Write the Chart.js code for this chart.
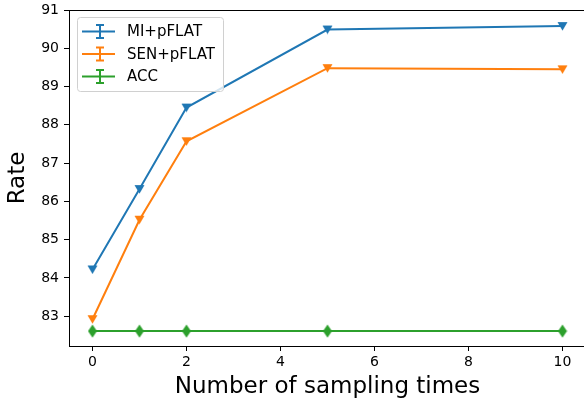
<!DOCTYPE html>
<html lang="en">
<head>
<meta charset="UTF-8" />
<title>Rate vs sampling times</title>
<script src="https://cdn.jsdelivr.net/npm/chart.js"></script>
<style>
  html, body { margin: 0; padding: 0; overflow: hidden; background: #fff; }
  canvas { display: block; }
</style>
</head>
<body>
<canvas id="grafico" width="588" height="401"></canvas>
<script>
  // dados
  var samplingTimes = [0, 1, 2, 5, 10];
  var miValues = [84.22, 86.32, 88.45, 90.49, 90.58];
  var senValues = [82.92, 85.52, 87.57, 89.48, 89.45];
  var accValues = [82.61, 82.61, 82.61, 82.61, 82.61];
  var xTicks = [0, 2, 4, 6, 8, 10];
  var yTicks = [83, 84, 85, 86, 87, 88, 89, 90, 91];
  var seriesNames = ['MI+pFLAT', 'SEN+pFLAT', 'ACC'];
  var seriesColors = ['#1f77b4', '#ff7f0e', '#2ca02c'];

  var FONT = "'DejaVu Sans', sans-serif";

  function pares(values) {
    return samplingTimes.map(function (x, i) { return { x: x, y: values[i] }; });
  }

  // marcador 'd' (diamante fino) do matplotlib
  function diamante(cor) {
    var c = document.createElement('canvas');
    c.width = 10; c.height = 14;
    var ctx = c.getContext('2d');
    ctx.fillStyle = cor;
    ctx.beginPath();
    ctx.moveTo(5, 0.5); ctx.lineTo(9.5, 7); ctx.lineTo(5, 13.5); ctx.lineTo(0.5, 7);
    ctx.closePath();
    ctx.fill();
    return c;
  }

  // marcador 'v' (triangulo para baixo)
  function triangulo(cor) {
    var c = document.createElement('canvas');
    c.width = 11; c.height = 10;
    var ctx = c.getContext('2d');
    ctx.fillStyle = cor;
    ctx.beginPath();
    ctx.moveTo(0.5, 1); ctx.lineTo(10.5, 1); ctx.lineTo(5.5, 9.5);
    ctx.closePath();
    ctx.fill();
    return c;
  }

  // legenda com o simbolo de errorbar, dentro da area do grafico
  var legendaPlugin = {
    id: 'legendaErrorbar',
    afterDraw: function (chart) {
      var ctx = chart.ctx;
      var area = chart.chartArea;
      var x0 = area.left + 8, y0 = area.top + 7, w = 146, h = 74;
      ctx.save();
      ctx.fillStyle = 'rgba(255,255,255,0.8)';
      ctx.strokeStyle = '#d0d0d0';
      ctx.lineWidth = 1;
      ctx.beginPath();
      ctx.roundRect(x0 + 0.5, y0 + 0.5, w, h, 3);
      ctx.fill();
      ctx.stroke();
      ctx.font = '15px ' + FONT;
      ctx.textBaseline = 'middle';
      for (var i = 0; i < seriesNames.length; i++) {
        var cy = y0 + 14.5 + i * 22.5;
        ctx.strokeStyle = seriesColors[i];
        ctx.lineWidth = 2;
        ctx.beginPath();
        ctx.moveTo(x0 + 5, cy); ctx.lineTo(x0 + 38, cy);
        ctx.moveTo(x0 + 23, cy - 6.5); ctx.lineTo(x0 + 23, cy + 6.5);
        ctx.moveTo(x0 + 19, cy - 6.5); ctx.lineTo(x0 + 27, cy - 6.5);
        ctx.moveTo(x0 + 19, cy + 6.5); ctx.lineTo(x0 + 27, cy + 6.5);
        ctx.stroke();
        ctx.fillStyle = '#000';
        ctx.fillText(seriesNames[i], x0 + 50, cy + 1);
      }
      ctx.restore();
    }
  };

  var moldura = {
    id: 'moldura',
    beforeDatasetsDraw: function (chart) {
      var a = chart.chartArea, ctx = chart.ctx;
      ctx.save();
      ctx.strokeStyle = '#000';
      ctx.lineWidth = 1;
      ctx.strokeRect(Math.round(a.left) + 0.5, Math.round(a.top) + 0.5,
        Math.round(a.right - a.left), Math.round(a.bottom - a.top));
      ctx.restore();
    }
  };

  var dados = [miValues, senValues, accValues];
  var marcadores = [triangulo(seriesColors[0]), triangulo(seriesColors[1]), diamante(seriesColors[2])];

  new Chart(document.getElementById('grafico'), {
    type: 'line',
    data: {
      datasets: dados.map(function (v, i) {
        return {
          label: seriesNames[i],
          data: pares(v),
          borderColor: seriesColors[i],
          backgroundColor: seriesColors[i],
          borderWidth: 2,
          pointStyle: marcadores[i],
          pointRadius: 5,
          tension: 0
        };
      })
    },
    options: {
      responsive: false,
      animation: false,
      layout: { autoPadding: false, padding: { top: 10, right: 2, left: 0, bottom: 0 } },
      plugins: {
        legend: { display: false },
        tooltip: { enabled: false }
      },
      scales: {
        x: {
          type: 'linear',
          min: -0.5,
          max: 10.5,
          afterBuildTicks: function (s) { s.ticks = xTicks.map(function (v) { return { value: v }; }); },
          afterFit: function (s) { s.height = 55; s.paddingLeft = 0; s.paddingRight = 0; },
          grid: { display: true, drawOnChartArea: false, drawTicks: true, tickLength: 5, color: '#000' },
          border: { display: true, color: '#000', width: 1 },
          ticks: { color: '#000', font: { family: FONT, size: 14 }, padding: 3, maxRotation: 0 },
          title: {
            display: true,
            text: 'Number of sampling times',
            color: '#000',
            font: { family: FONT, size: 23 },
            padding: { top: 0, bottom: 0 }
          }
        },
        y: {
          type: 'linear',
          min: 82.22,
          max: 91,
          afterBuildTicks: function (s) { s.ticks = yTicks.map(function (v) { return { value: v }; }); },
          afterFit: function (s) { s.width = 69; s.paddingTop = 0; s.paddingBottom = 0; },
          grid: { display: true, drawOnChartArea: false, drawTicks: true, tickLength: 5, color: '#000' },
          border: { display: true, color: '#000', width: 1 },
          ticks: { color: '#000', font: { family: FONT, size: 14 }, padding: 5 },
          title: {
            display: true,
            text: 'Rate',
            color: '#000',
            font: { family: FONT, size: 23 },
            padding: { top: 4, bottom: 0 }
          }
        }
      }
    },
    plugins: [moldura, legendaPlugin]
  });
</script>
</body>
</html>
